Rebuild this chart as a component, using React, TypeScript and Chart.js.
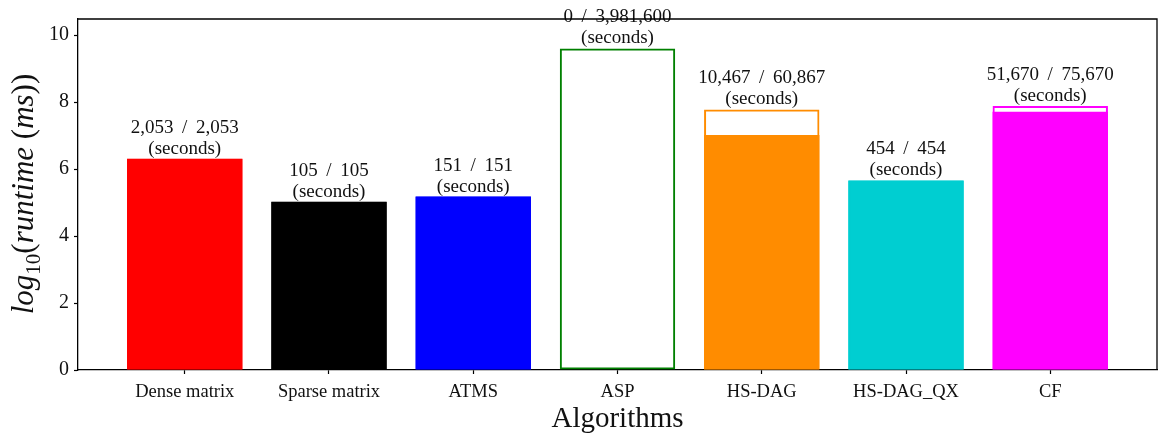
import React, { useEffect, useRef } from "react";
import { Chart, registerables } from "chart.js";

Chart.register(...registerables);

const categories = ["Dense matrix", "Sparse matrix", "ATMS", "ASP", "HS-DAG", "HS-DAG_QX", "CF"];
const solvedLog = [6.31, 5.02, 5.18, 0, 7.02, 5.66, 7.71];
const totalLog = [6.31, 5.02, 5.18, 9.6, 7.78, 5.66, 7.88];
const solvedLabels = ["2,053", "105", "151", "0", "10,467", "454", "51,670"];
const totalLabels = ["2,053", "105", "151", "3,981,600", "60,867", "454", "75,670"];
const barColors = ["#ff0000", "#000000", "#0000ff", "#008000", "#ff8c00", "#00ced1", "#ff00ff"];
const yTicks = [0, 2, 4, 6, 8, 10];

const SERIF = "'Liberation Serif', 'DejaVu Serif', serif";

const decorPlugin = {
  id: "decor",
  afterDatasetsDraw(chart: any) {
    const { ctx, chartArea, scales } = chart;
    const xs = scales.x;
    const ys = scales.y;
    ctx.save();
    // annotations
    ctx.fillStyle = "#111";
    ctx.textAlign = "center";
    ctx.textBaseline = "alphabetic";
    ctx.font = `19px ${SERIF}`;
    categories.forEach((_, i) => {
      const x = xs.getPixelForValue(i);
      const top = ys.getPixelForValue(Math.max(totalLog[i], solvedLog[i]));
      ctx.fillText("(seconds)", x, top - 5);
      ctx.fillText(`${solvedLabels[i]} \u2009/\u2009 ${totalLabels[i]}`, x, top - 26);
    });
    // frame top & right
    ctx.strokeStyle = "#000";
    ctx.lineWidth = 1.3;
    ctx.beginPath();
    ctx.moveTo(chartArea.left, chartArea.top);
    ctx.lineTo(chartArea.right, chartArea.top);
    ctx.lineTo(chartArea.right, chartArea.bottom);
    ctx.stroke();
    // x title
    ctx.font = `29px ${SERIF}`;
    ctx.textAlign = "center";
    ctx.textBaseline = "alphabetic";
    ctx.fillStyle = "#111";
    ctx.fillText("Algorithms", (chartArea.left + chartArea.right) / 2, 427);
    // y title with subscript
    const parts: [string, string, number][] = [
      ["log", `italic 31px ${SERIF}`, 0],
      ["10", `21px ${SERIF}`, 7],
      ["(", `31px ${SERIF}`, 0],
      ["runtime", `italic 31px ${SERIF}`, 0],
      [" (", `31px ${SERIF}`, 0],
      ["ms", `italic 31px ${SERIF}`, 0],
      ["))", `31px ${SERIF}`, 0],
    ];
    let total = 0;
    parts.forEach(([t, f]) => {
      ctx.font = f;
      total += ctx.measureText(t).width;
    });
    const cy = 194;
    ctx.translate(33, cy);
    ctx.rotate(-Math.PI / 2);
    ctx.textAlign = "left";
    let pos = -total / 2;
    parts.forEach(([t, f, dy]) => {
      ctx.font = f;
      ctx.fillText(t, pos, dy);
      pos += ctx.measureText(t).width;
    });
    ctx.restore();
  },
};

export default function App() {
  const ref = useRef<HTMLCanvasElement>(null);
  useEffect(() => {
    if (!ref.current) return;
    const chart = new Chart(ref.current, {
      type: "bar",
      data: {
        datasets: [
          {
            label: "total",
            data: categories.map((_, i) => ({ x: i, y: totalLog[i] })),
            backgroundColor: "rgba(255,255,255,0)",
            borderColor: barColors,
            borderWidth: 2,
            borderSkipped: false,
            grouped: false,
            categoryPercentage: 1,
            barPercentage: 0.8,
          } as any,
          {
            label: "solved",
            data: categories.map((_, i) => ({ x: i, y: solvedLog[i] })),
            backgroundColor: barColors,
            borderWidth: 0,
            grouped: false,
            categoryPercentage: 1,
            barPercentage: 0.8,
          } as any,
        ],
      },
      options: {
        animation: false,
        responsive: false,
        maintainAspectRatio: false,
        layout: { padding: { left: 0, top: 19, right: 5, bottom: 0 } },
        plugins: { legend: { display: false }, tooltip: { enabled: false } },
        scales: {
          x: {
            type: "linear",
            offset: false,
            min: -0.74,
            max: 6.74,
            afterBuildTicks: (s: any) => {
              s.ticks = categories.map((_, i) => ({ value: i }));
            },
            afterFit: (s: any) => {
              s.height = 67;
            },
            grid: { display: true, offset: false, drawOnChartArea: false, tickLength: 4, color: "#000", tickWidth: 1.2 },
            border: { display: true, color: "#000", width: 1.3 },
            ticks: {
              autoSkip: false,
              maxRotation: 0,
              padding: 7,
              color: "#111",
              font: { family: SERIF, size: 18.5 },
              callback: (v: any) => categories[v] ?? "",
            },
          },
          y: {
            type: "linear",
            min: 0,
            max: 10.48,
            afterBuildTicks: (s: any) => {
              s.ticks = yTicks.map((v) => ({ value: v }));
            },
            afterFit: (s: any) => {
              s.width = 78;
            },
            grid: { display: true, drawOnChartArea: false, tickLength: 4, color: "#000", tickWidth: 1.2 },
            border: { display: true, color: "#000", width: 1.3 },
            ticks: {
              padding: 5,
              color: "#111",
              font: { family: SERIF, size: 20 },
            },
          },
        },
      },
      plugins: [decorPlugin],
    });
    return () => chart.destroy();
  }, []);
  return (
    <div style={{ position: "fixed", left: 0, top: 0, width: 1162, height: 437, background: "#fff" }}>
      <canvas ref={ref} width={1162} height={437} style={{ width: 1162, height: 437 }} />
    </div>
  );
}
